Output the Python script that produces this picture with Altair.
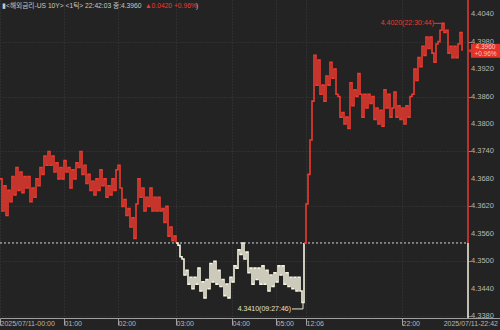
import altair as alt
import pandas as pd

# ---------------- data ----------------
BASE = 4.354          # previous close (4.3960 - 0.0420)
LAST = 4.396

# morning session (above previous close)
seg_am = [4.368, 4.361, 4.3665, 4.360, 4.3655, 4.363, 4.3685, 4.3645, 4.3705, 4.3655,
          4.3695, 4.365, 4.3685, 4.366, 4.3685, 4.363, 4.366, 4.364, 4.368, 4.3665,
          4.3705, 4.369, 4.373, 4.371, 4.374, 4.371, 4.373, 4.3695, 4.3715, 4.368,
          4.3705, 4.368, 4.372, 4.3695, 4.3705, 4.366, 4.370, 4.368, 4.3715, 4.3705,
          4.374, 4.369, 4.371, 4.367, 4.369, 4.3655, 4.3675, 4.3645, 4.368, 4.3655,
          4.370, 4.3665, 4.368, 4.364, 4.3665, 4.3645, 4.368, 4.3655, 4.370, 4.371,
          4.366, 4.362, 4.3635, 4.360, 4.3615, 4.3575, 4.3595, 4.355, 4.3625, 4.368,
          4.364, 4.366, 4.361, 4.364, 4.362, 4.366, 4.361, 4.364, 4.361, 4.364,
          4.361, 4.3615, 4.3585, 4.362, 4.3555, 4.3575, 4.3545, 4.3555]

# dip below previous close
seg_dip = [4.3535, 4.351, 4.3505, 4.347, 4.348, 4.345, 4.3465, 4.344, 4.3465, 4.345,
           4.3485, 4.3435, 4.3455, 4.342, 4.346, 4.344, 4.3495, 4.3455, 4.350, 4.345,
           4.348, 4.3445, 4.346, 4.3425, 4.345, 4.342, 4.3465, 4.3455, 4.349, 4.3485,
           4.3525, 4.3515, 4.354, 4.3505, 4.352, 4.3475, 4.3485, 4.345, 4.3485, 4.346,
           4.3485, 4.345, 4.349, 4.345, 4.348, 4.3435, 4.347, 4.3445, 4.3475, 4.3455,
           4.349, 4.347, 4.349, 4.345, 4.3475, 4.3445, 4.3465, 4.344, 4.3465, 4.3435,
           4.3465, 4.3435, 4.341]

# jump and afternoon / evening session
seg_pm = [4.3625, 4.369, 4.3765, 4.385, 4.395, 4.3885, 4.394, 4.3865, 4.3885, 4.385,
          4.3905, 4.3885, 4.3935, 4.390, 4.392, 4.3865, 4.386, 4.3815, 4.3825, 4.380,
          4.3815, 4.379, 4.389, 4.384, 4.3875, 4.386, 4.391, 4.3865, 4.3815, 4.3865,
          4.3835, 4.3865, 4.3845, 4.386, 4.381, 4.3835, 4.380, 4.383, 4.3795, 4.3875,
          4.3835, 4.3865, 4.3815, 4.3835, 4.387, 4.3815, 4.384, 4.381, 4.3835, 4.380,
          4.384, 4.3815, 4.386, 4.3865, 4.392, 4.3895, 4.3945, 4.3925, 4.397, 4.395,
          4.399, 4.3965, 4.399, 4.3955, 4.3935, 4.3975, 4.398, 4.4005, 4.402, 4.400,
          4.4005, 4.3955, 4.397, 4.3945, 4.397, 4.3945, 4.3975, 4.400, 4.396]

series = seg_am + [BASE] + seg_dip + [BASE] + seg_pm
N_SLOTS = 234

tick_idx = [0, 32, 59, 88, 116, 138, 153, 201]
tick_lbl = ["2025/07/11-00:00", "01:00", "02:00", "03:00", "04:00", "05:00", "12:06", "22:00"]
end_lbl = "2025/07/11-22:42"
y_ticks = [4.338, 4.344, 4.350, 4.356, 4.362, 4.368, 4.374, 4.380, 4.386, 4.392, 4.398, 4.404]
Y_DOMAIN = [4.3376, 4.4071]

title_main = "▮<해외금리-US 10Y> <1틱> 22:42:03 종:4.3960"
title_chg = "▲0.0420 +0.96%"
title_end = ")"
last_price_lbl = "4.3960"
last_pct_lbl = "+0.96%"
max_lbl = "4.4020(22:30:44)"
min_lbl = "4.3410(09:27:46)"

# ---------------- styles ----------------
BG = "#232323"
RED = "#ee3a2e"
CREAM = "#f7f4e0"
GRID = "#3d3d3d"
LBL = "#b8b8b8"
AXIS = "#a0a0a0"
FONT = "Liberation Sans, Arial, sans-serif"
TFONT = "Liberation Sans, Noto Sans CJK KR, sans-serif"

# split the line into runs above / below the previous close
rows = []
g = 0
cur = None
prev = None
for i, v in enumerate(series):
    s = (v > BASE) - (v < BASE)
    if s != 0 and cur is not None and s != cur:
        g += 1
        rows.append(dict(t=prev[0], v=prev[1], g=g, side="up" if s > 0 else "down"))
    if s != 0:
        cur = s
    rows.append(dict(t=i, v=v, g=g, side="up" if cur > 0 else "down"))
    prev = (i, v)
df = pd.DataFrame(rows)

i_max = max(range(len(series)), key=lambda i: series[i])
i_min = min(range(len(series)), key=lambda i: series[i])
df_max = pd.DataFrame({"t": [i_max], "v": [series[i_max]]})
df_min = pd.DataFrame({"t": [i_min], "v": [series[i_min]]})

label_expr = "".join(f"datum.value == {i} ? ' {l}' : " for i, l in zip(tick_idx, tick_lbl)) + "''"

xscale = alt.Scale(domain=[0, N_SLOTS], nice=False, zero=False)
yscale = alt.Scale(domain=Y_DOMAIN, nice=False, zero=False)

x_axis = alt.Axis(values=tick_idx, labelExpr=label_expr, labelAlign="left", labelBaseline="middle",
                  labelPadding=-2, tickSize=7, tickColor=AXIS, domainColor=AXIS,
                  labelColor=LBL, labelFont=FONT, labelFontSize=7, grid=True, gridColor=GRID,
                  gridDash=[1, 2], title=None, labelOverlap=False, labelFlush=False, labelBound=False)
y_axis = alt.Axis(orient="right", values=y_ticks, labels=False, tickSize=3, tickColor="#808080",
                  domain=False, grid=True, gridColor=GRID, gridDash=[1, 2], title=None)

line = alt.Chart(df).mark_line(interpolate="step-after", strokeWidth=1.6).encode(
    x=alt.X("t:Q", scale=xscale, axis=x_axis),
    y=alt.Y("v:Q", scale=yscale, axis=y_axis),
    color=alt.Color("side:N", scale=alt.Scale(domain=["up", "down"], range=[RED, CREAM]), legend=None),
    detail="g:N",
)

ylab_df = pd.DataFrame({"v": y_ticks, "lbl": [f"{v:.4f}" for v in y_ticks]})
ylabels = alt.Chart(ylab_df).mark_text(font=FONT, fontSize=7.5, color=LBL, align="left", baseline="middle").encode(
    x=alt.value(471), y="v:Q", text="lbl:N")

base_rule = alt.Chart(pd.DataFrame({"v": [BASE]})).mark_rule(
    color="#d6d6d6", strokeDash=[2, 2], strokeWidth=1).encode(
    x=alt.value(0), x2=alt.value(468), y="v:Q")

edge = pd.DataFrame({"t": [N_SLOTS, N_SLOTS], "lo": [BASE, Y_DOMAIN[0]],
                     "hi": [Y_DOMAIN[1], BASE], "side": ["up", "down"]})
edge_rule = alt.Chart(edge).mark_rule(strokeWidth=1.5).encode(
    x="t:Q", y="lo:Q", y2="hi:Q",
    color=alt.Color("side:N", scale=alt.Scale(domain=["up", "down"], range=[RED, CREAM]), legend=None))

last_df = pd.DataFrame({"v": [LAST]})
box = alt.Chart(last_df).mark_rect(color="#e2322a", yOffset=-7, y2Offset=7).encode(
    x=alt.value(471), x2=alt.value(500), y="v:Q", y2="v")
arrow = alt.Chart(last_df).mark_point(shape="triangle-left", filled=True, color="#e2322a", size=30, opacity=1).encode(
    x=alt.value(470), y="v:Q")
box_t1 = alt.Chart(last_df).mark_text(font=FONT, fontSize=6.5, color="#ffc4bd", dy=-3.3, align="center").encode(
    x=alt.value(485.5), y="v:Q", text=alt.value(last_price_lbl))
box_t2 = alt.Chart(last_df).mark_text(font=FONT, fontSize=6.5, color="#ffc4bd", dy=3.5, align="center").encode(
    x=alt.value(485.5), y="v:Q", text=alt.value(last_pct_lbl))

max_t = alt.Chart(df_max).mark_text(font=FONT, fontSize=7, color=RED, align="right", dx=-8).encode(
    x="t:Q", y="v:Q", text=alt.value(max_lbl))
max_r = alt.Chart(df_max).mark_rule(color=RED, xOffset=-8, x2Offset=-1).encode(
    x="t:Q", x2="t", y="v:Q")

min_t = alt.Chart(df_min).mark_text(font=FONT, fontSize=7, color="#e4e4d4", align="right", dx=-11, dy=6.5).encode(
    x="t:Q", y="v:Q", text=alt.value(min_lbl))
min_rh = alt.Chart(df_min).mark_rule(color="#e4e4d4", xOffset=-10, x2Offset=1, yOffset=6.5).encode(
    x="t:Q", x2="t", y="v:Q")
min_rv = alt.Chart(df_min).mark_rule(color="#e4e4d4", xOffset=1, y2Offset=6.5).encode(
    x="t:Q", y="v:Q", y2="v")

axis_ext = alt.Chart(pd.DataFrame({"a": [0]})).mark_rule(color=AXIS).encode(
    x=alt.value(468), x2=alt.value(500), y=alt.value(318.5))
end_t = alt.Chart(pd.DataFrame({"a": [0]})).mark_text(
    font=FONT, fontSize=7, color=LBL, align="right", baseline="middle").encode(
    x=alt.value(498), y=alt.value(323.5), text=alt.value(end_lbl))

t_main = alt.Chart(pd.DataFrame({"a": [0]})).mark_text(
    font=TFONT, fontSize=6.7, color="#c8c8c8", align="left", baseline="middle").encode(
    x=alt.value(2), y=alt.value(5.5), text=alt.value(title_main))
t_chg = alt.Chart(pd.DataFrame({"a": [0]})).mark_text(
    font=TFONT, fontSize=6.7, color=RED, align="left", baseline="middle").encode(
    x=alt.value(145), y=alt.value(5.5), text=alt.value(title_chg))
t_end = alt.Chart(pd.DataFrame({"a": [0]})).mark_text(
    font=TFONT, fontSize=6.7, color="#c8c8c8", align="left", baseline="middle").encode(
    x=alt.value(196), y=alt.value(5.5), text=alt.value(title_end))

chart = alt.layer(
    base_rule, line, edge_rule, axis_ext, ylabels, box, arrow, box_t1, box_t2,
    max_r, max_t, min_rh, min_rv, min_t, end_t, t_main, t_chg, t_end
).resolve_scale(color="independent").properties(
    width=468, height=318,
    autosize=alt.AutoSizeParams(type="none"),
    padding={"left": 0, "top": 0, "right": 32, "bottom": 12},
    background=BG,
).configure_view(strokeWidth=0)

chart.save("out.html", embed_options={"renderer": "svg", "actions": False})
